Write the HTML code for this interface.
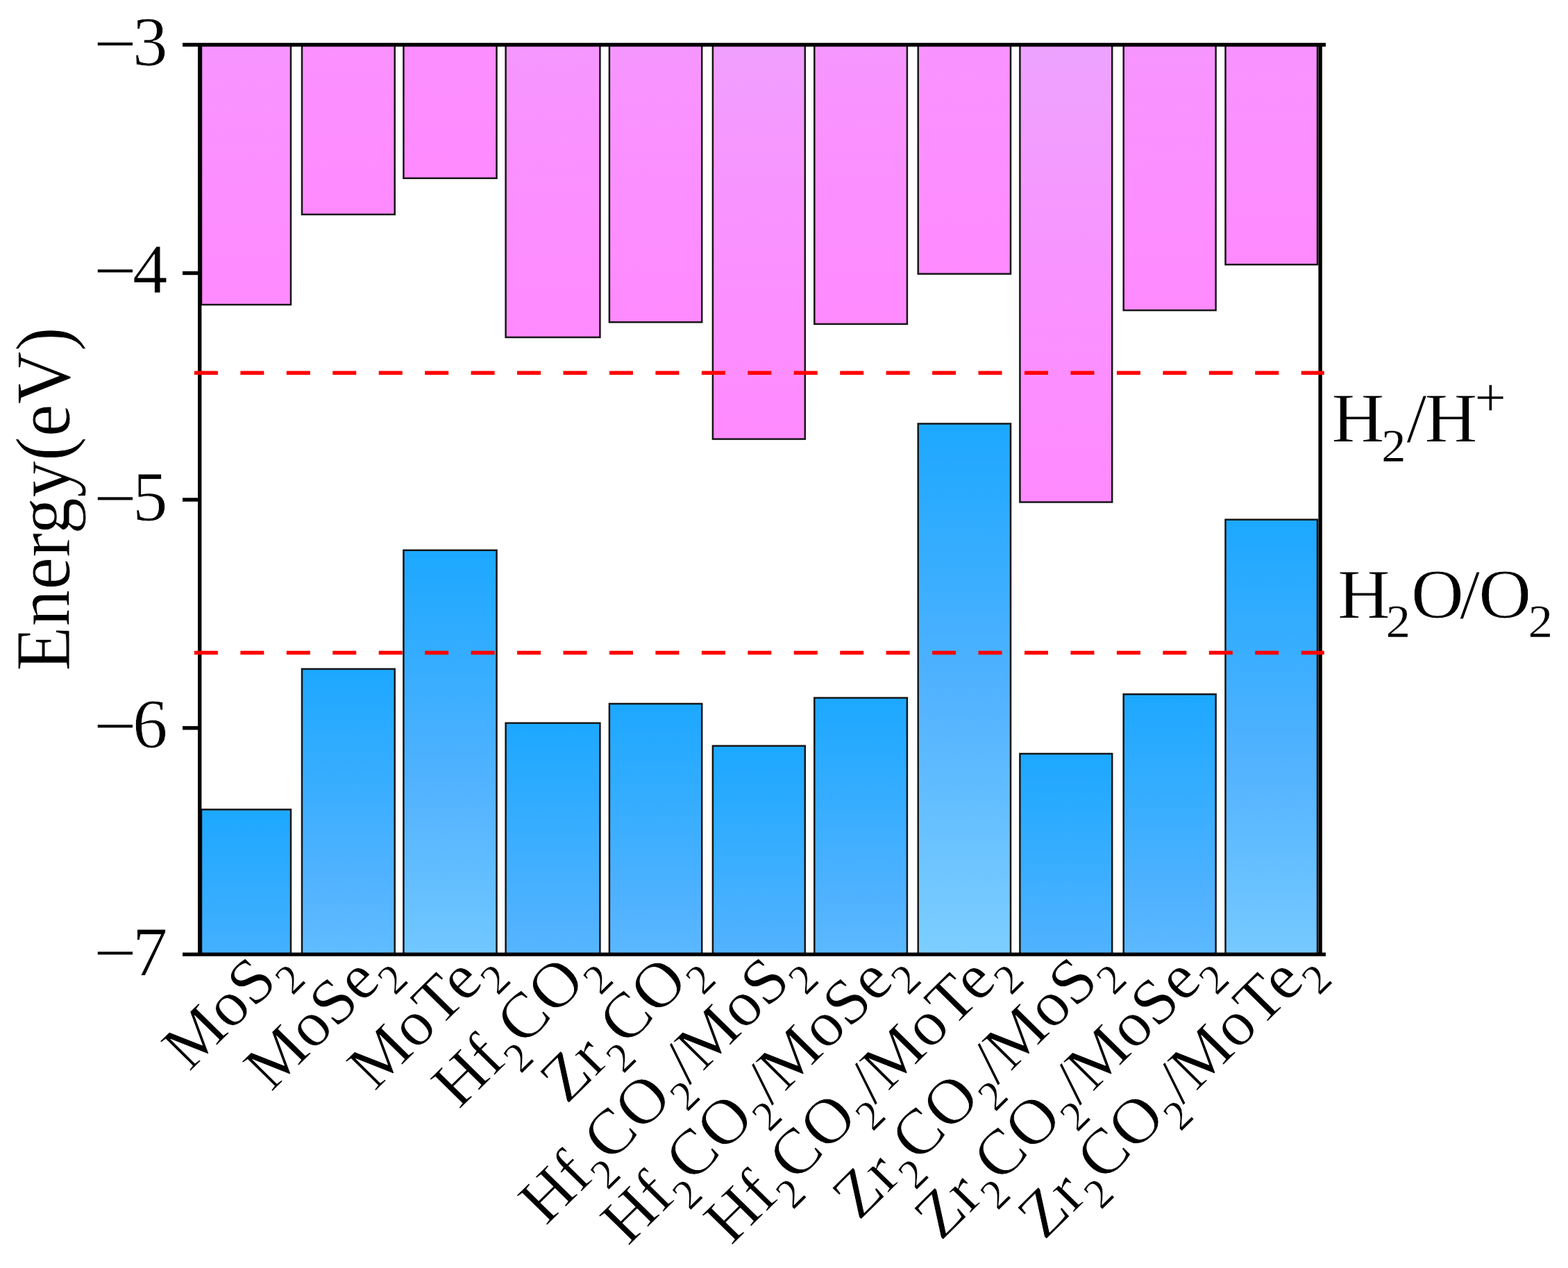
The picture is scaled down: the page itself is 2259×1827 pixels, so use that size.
<!DOCTYPE html>
<html lang="en">
<head>
<meta charset="utf-8">
<title>Band edge positions</title>
<style>
html,body{margin:0;padding:0;background:#fff;}
body{width:2259px;height:1827px;overflow:hidden;}
svg{display:block;filter:blur(0.70px);}
text{font-family:"Liberation Serif","Times New Roman",serif;fill:#000;stroke:#fff;stroke-width:0.80px;stroke-linejoin:round;}
tspan.s{stroke-width:0.30px;}
</style>
</head>
<body>
<svg width="2259" height="1827" viewBox="0 0 2259 1827" role="img" aria-label="Band edge positions relative to water redox potentials">
<rect x="0" y="0" width="2259" height="1827" fill="#ffffff"/>
<defs>
<linearGradient id="p0" gradientUnits="userSpaceOnUse" x1="0" y1="64.5" x2="0" y2="439.0"><stop offset="0.000" stop-color="rgb(247,149,255)"/><stop offset="0.119" stop-color="rgb(249,147,255)"/><stop offset="1.000" stop-color="rgb(255,138,255)"/></linearGradient>
<linearGradient id="b0" gradientUnits="userSpaceOnUse" x1="0" y1="1166.4" x2="0" y2="1375.1"><stop offset="0.000" stop-color="rgb(28,168,255)"/><stop offset="1.000" stop-color="rgb(68,176,255)"/></linearGradient>
<linearGradient id="p1" gradientUnits="userSpaceOnUse" x1="0" y1="64.5" x2="0" y2="309.0"><stop offset="0.000" stop-color="rgb(251,145,255)"/><stop offset="1.000" stop-color="rgb(255,138,255)"/></linearGradient>
<linearGradient id="b1" gradientUnits="userSpaceOnUse" x1="0" y1="963.9" x2="0" y2="1375.1"><stop offset="0.000" stop-color="rgb(28,168,255)"/><stop offset="0.737" stop-color="rgb(81,178,255)"/><stop offset="1.000" stop-color="rgb(96,188,255)"/></linearGradient>
<linearGradient id="p2" gradientUnits="userSpaceOnUse" x1="0" y1="64.5" x2="0" y2="256.8"><stop offset="0.000" stop-color="rgb(252,143,255)"/><stop offset="1.000" stop-color="rgb(255,138,255)"/></linearGradient>
<linearGradient id="b2" gradientUnits="userSpaceOnUse" x1="0" y1="792.8" x2="0" y2="1375.1"><stop offset="0.000" stop-color="rgb(28,168,255)"/><stop offset="0.571" stop-color="rgb(81,178,255)"/><stop offset="1.000" stop-color="rgb(113,199,255)"/></linearGradient>
<linearGradient id="p3" gradientUnits="userSpaceOnUse" x1="0" y1="64.5" x2="0" y2="486.0"><stop offset="0.000" stop-color="rgb(246,151,255)"/><stop offset="0.217" stop-color="rgb(249,147,255)"/><stop offset="1.000" stop-color="rgb(255,138,255)"/></linearGradient>
<linearGradient id="b3" gradientUnits="userSpaceOnUse" x1="0" y1="1041.8" x2="0" y2="1375.1"><stop offset="0.000" stop-color="rgb(28,168,255)"/><stop offset="0.878" stop-color="rgb(81,178,255)"/><stop offset="1.000" stop-color="rgb(87,182,255)"/></linearGradient>
<linearGradient id="p4" gradientUnits="userSpaceOnUse" x1="0" y1="64.5" x2="0" y2="464.2"><stop offset="0.000" stop-color="rgb(246,150,255)"/><stop offset="0.174" stop-color="rgb(249,147,255)"/><stop offset="1.000" stop-color="rgb(255,138,255)"/></linearGradient>
<linearGradient id="b4" gradientUnits="userSpaceOnUse" x1="0" y1="1014.0" x2="0" y2="1375.1"><stop offset="0.000" stop-color="rgb(28,168,255)"/><stop offset="0.820" stop-color="rgb(81,178,255)"/><stop offset="1.000" stop-color="rgb(90,184,255)"/></linearGradient>
<linearGradient id="p5" gradientUnits="userSpaceOnUse" x1="0" y1="64.5" x2="0" y2="632.6"><stop offset="0.000" stop-color="rgb(240,159,255)"/><stop offset="0.419" stop-color="rgb(249,147,255)"/><stop offset="1.000" stop-color="rgb(255,138,255)"/></linearGradient>
<linearGradient id="b5" gradientUnits="userSpaceOnUse" x1="0" y1="1074.7" x2="0" y2="1375.1"><stop offset="0.000" stop-color="rgb(28,168,255)"/><stop offset="0.960" stop-color="rgb(81,178,255)"/><stop offset="1.000" stop-color="rgb(83,179,255)"/></linearGradient>
<linearGradient id="p6" gradientUnits="userSpaceOnUse" x1="0" y1="64.5" x2="0" y2="466.9"><stop offset="0.000" stop-color="rgb(246,151,255)"/><stop offset="0.180" stop-color="rgb(249,147,255)"/><stop offset="1.000" stop-color="rgb(255,138,255)"/></linearGradient>
<linearGradient id="b6" gradientUnits="userSpaceOnUse" x1="0" y1="1005.5" x2="0" y2="1375.1"><stop offset="0.000" stop-color="rgb(28,168,255)"/><stop offset="0.804" stop-color="rgb(81,178,255)"/><stop offset="1.000" stop-color="rgb(91,185,255)"/></linearGradient>
<linearGradient id="p7" gradientUnits="userSpaceOnUse" x1="0" y1="64.5" x2="0" y2="394.6"><stop offset="0.000" stop-color="rgb(249,147,255)"/><stop offset="1.000" stop-color="rgb(255,138,255)"/></linearGradient>
<linearGradient id="b7" gradientUnits="userSpaceOnUse" x1="0" y1="610.5" x2="0" y2="1375.1"><stop offset="0.000" stop-color="rgb(28,168,255)"/><stop offset="0.501" stop-color="rgb(81,178,255)"/><stop offset="1.000" stop-color="rgb(124,206,255)"/></linearGradient>
<linearGradient id="p8" gradientUnits="userSpaceOnUse" x1="0" y1="64.5" x2="0" y2="723.5"><stop offset="0.000" stop-color="rgb(237,163,255)"/><stop offset="0.499" stop-color="rgb(249,147,255)"/><stop offset="1.000" stop-color="rgb(255,138,255)"/></linearGradient>
<linearGradient id="b8" gradientUnits="userSpaceOnUse" x1="0" y1="1086.0" x2="0" y2="1375.1"><stop offset="0.000" stop-color="rgb(28,168,255)"/><stop offset="1.000" stop-color="rgb(81,178,255)"/></linearGradient>
<linearGradient id="p9" gradientUnits="userSpaceOnUse" x1="0" y1="64.5" x2="0" y2="447.1"><stop offset="0.000" stop-color="rgb(247,150,255)"/><stop offset="0.137" stop-color="rgb(249,147,255)"/><stop offset="1.000" stop-color="rgb(255,138,255)"/></linearGradient>
<linearGradient id="b9" gradientUnits="userSpaceOnUse" x1="0" y1="1000.3" x2="0" y2="1375.1"><stop offset="0.000" stop-color="rgb(28,168,255)"/><stop offset="0.795" stop-color="rgb(81,178,255)"/><stop offset="1.000" stop-color="rgb(92,185,255)"/></linearGradient>
<linearGradient id="p10" gradientUnits="userSpaceOnUse" x1="0" y1="64.5" x2="0" y2="381.2"><stop offset="0.000" stop-color="rgb(249,147,255)"/><stop offset="1.000" stop-color="rgb(255,138,255)"/></linearGradient>
<linearGradient id="b10" gradientUnits="userSpaceOnUse" x1="0" y1="748.7" x2="0" y2="1375.1"><stop offset="0.000" stop-color="rgb(28,168,255)"/><stop offset="0.546" stop-color="rgb(81,178,255)"/><stop offset="1.000" stop-color="rgb(117,201,255)"/></linearGradient>
</defs>
<g font-size="101.0" text-anchor="end">
<text transform="translate(241.4 95.3) scale(1.000 1)"><tspan textLength="62.1" lengthAdjust="spacingAndGlyphs" dy="1.8">−</tspan><tspan dx="-6.0" dy="-1.8">3</tspan></text>
<text transform="translate(241.4 421.7) scale(1.000 1)"><tspan textLength="62.1" lengthAdjust="spacingAndGlyphs" dy="1.8">−</tspan><tspan dx="-6.0" dy="-1.8">4</tspan></text>
<text transform="translate(241.4 750.0) scale(1.000 1)"><tspan textLength="62.1" lengthAdjust="spacingAndGlyphs" dy="1.8">−</tspan><tspan dx="-6.0" dy="-1.8">5</tspan></text>
<text transform="translate(241.4 1077.7) scale(1.000 1)"><tspan textLength="62.1" lengthAdjust="spacingAndGlyphs" dy="1.8">−</tspan><tspan dx="-6.0" dy="-1.8">6</tspan></text>
<text transform="translate(241.4 1405.5) scale(1.000 1)"><tspan textLength="62.1" lengthAdjust="spacingAndGlyphs" dy="1.8">−</tspan><tspan dx="-6.0" dy="-1.8">7</tspan></text>
</g>
<text font-size="105.5" text-anchor="middle" transform="translate(100.2 719.0) scale(1.070 1) rotate(-90)">Energy(eV)</text>
<text font-size="102.0" transform="translate(1918.5 637.0) scale(1.030 1)">H<tspan class="s" font-size="68.3" dx="-4.1" dy="27.5">2</tspan><tspan dx="0.9" dy="-27.5">/</tspan><tspan dx="-2.9">H</tspan><tspan class="s" font-size="77.5" dx="-3.5" dy="-38.5">+</tspan></text>
<text font-size="102.0" transform="translate(1927.0 890.5) scale(1.030 1)">H<tspan class="s" font-size="68.3" dx="-6.0" dy="27.5">2</tspan><tspan dx="1.2" dy="-27.5">O</tspan><tspan dx="-5.7">/</tspan><tspan dx="-2.1">O</tspan><tspan class="s" font-size="68.3" dx="-4.1" dy="27.5">2</tspan></text>
<g font-size="93.2" text-anchor="end">
<text transform="translate(424.4 1395.9) scale(1.017 1) rotate(-45.0)">MoS<tspan class="s" font-size="60.1" dy="25.6">2</tspan></text>
<text transform="translate(572.3 1395.9) scale(1.017 1) rotate(-45.0)">MoSe<tspan class="s" font-size="60.1" dy="25.6">2</tspan></text>
<text transform="translate(720.2 1395.9) scale(1.017 1) rotate(-45.0)">MoTe<tspan class="s" font-size="60.1" dy="25.6">2</tspan></text>
<text transform="translate(868.1 1395.9) scale(1.017 1) rotate(-45.0)">Hf<tspan class="s" font-size="60.1" dy="25.6">2</tspan><tspan dy="-25.6">CO</tspan><tspan class="s" font-size="60.1" dy="25.6">2</tspan></text>
<text transform="translate(1016.0 1395.9) scale(1.017 1) rotate(-45.0)">Zr<tspan class="s" font-size="60.1" dy="25.6">2</tspan><tspan dy="-25.6">CO</tspan><tspan class="s" font-size="60.1" dy="25.6">2</tspan></text>
<text transform="translate(1163.9 1395.9) scale(1.017 1) rotate(-45.0)">Hf<tspan class="s" font-size="60.1" dy="25.6">2</tspan><tspan dy="-25.6">CO</tspan><tspan class="s" font-size="60.1" dy="25.6">2</tspan><tspan dy="-25.6">/MoS</tspan><tspan class="s" font-size="60.1" dy="25.6">2</tspan></text>
<text transform="translate(1311.8 1395.9) scale(1.017 1) rotate(-45.0)">Hf<tspan class="s" font-size="60.1" dy="25.6">2</tspan><tspan dy="-25.6">CO</tspan><tspan class="s" font-size="60.1" dy="25.6">2</tspan><tspan dy="-25.6">/MoSe</tspan><tspan class="s" font-size="60.1" dy="25.6">2</tspan></text>
<text transform="translate(1459.7 1395.9) scale(1.017 1) rotate(-45.0)">Hf<tspan class="s" font-size="60.1" dy="25.6">2</tspan><tspan dy="-25.6">CO</tspan><tspan class="s" font-size="60.1" dy="25.6">2</tspan><tspan dy="-25.6">/MoTe</tspan><tspan class="s" font-size="60.1" dy="25.6">2</tspan></text>
<text transform="translate(1607.6 1395.9) scale(1.017 1) rotate(-45.0)">Zr<tspan class="s" font-size="60.1" dy="25.6">2</tspan><tspan dy="-25.6">CO</tspan><tspan class="s" font-size="60.1" dy="25.6">2</tspan><tspan dy="-25.6">/MoS</tspan><tspan class="s" font-size="60.1" dy="25.6">2</tspan></text>
<text transform="translate(1755.5 1395.9) scale(1.017 1) rotate(-45.0)">Zr<tspan class="s" font-size="60.1" dy="25.6">2</tspan><tspan dy="-25.6">CO</tspan><tspan class="s" font-size="60.1" dy="25.6">2</tspan><tspan dy="-25.6">/MoSe</tspan><tspan class="s" font-size="60.1" dy="25.6">2</tspan></text>
<text transform="translate(1903.4 1395.9) scale(1.017 1) rotate(-45.0)">Zr<tspan class="s" font-size="60.1" dy="25.6">2</tspan><tspan dy="-25.6">CO</tspan><tspan class="s" font-size="60.1" dy="25.6">2</tspan><tspan dy="-25.6">/MoTe</tspan><tspan class="s" font-size="60.1" dy="25.6">2</tspan></text>
</g>
<g stroke="#151515" stroke-width="2.5" stroke-linejoin="miter">
<rect x="290.0" y="64.5" width="129.0" height="374.5" fill="url(#p0)"/>
<rect x="290.0" y="1166.4" width="129.0" height="208.7" fill="url(#b0)"/>
<rect x="435.0" y="64.5" width="133.7" height="244.5" fill="url(#p1)"/>
<rect x="435.0" y="963.9" width="133.7" height="411.2" fill="url(#b1)"/>
<rect x="581.4" y="64.5" width="134.1" height="192.3" fill="url(#p2)"/>
<rect x="581.4" y="792.8" width="134.1" height="582.3" fill="url(#b2)"/>
<rect x="728.6" y="64.5" width="135.8" height="421.5" fill="url(#p3)"/>
<rect x="728.6" y="1041.8" width="135.8" height="333.3" fill="url(#b3)"/>
<rect x="877.9" y="64.5" width="133.3" height="399.7" fill="url(#p4)"/>
<rect x="877.9" y="1014.0" width="133.3" height="361.1" fill="url(#b4)"/>
<rect x="1026.9" y="64.5" width="132.9" height="568.1" fill="url(#p5)"/>
<rect x="1026.9" y="1074.7" width="132.9" height="300.4" fill="url(#b5)"/>
<rect x="1173.3" y="64.5" width="133.6" height="402.4" fill="url(#p6)"/>
<rect x="1173.3" y="1005.5" width="133.6" height="369.6" fill="url(#b6)"/>
<rect x="1322.7" y="64.5" width="133.3" height="330.1" fill="url(#p7)"/>
<rect x="1322.7" y="610.5" width="133.3" height="764.6" fill="url(#b7)"/>
<rect x="1469.4" y="64.5" width="132.8" height="659.0" fill="url(#p8)"/>
<rect x="1469.4" y="1086.0" width="132.8" height="289.1" fill="url(#b8)"/>
<rect x="1618.7" y="64.5" width="132.9" height="382.6" fill="url(#p9)"/>
<rect x="1618.7" y="1000.3" width="132.9" height="374.8" fill="url(#b9)"/>
<rect x="1765.5" y="64.5" width="132.5" height="316.7" fill="url(#p10)"/>
<rect x="1765.5" y="748.7" width="132.5" height="626.4" fill="url(#b10)"/>
</g>
<g stroke="#000" stroke-width="5.4" fill="none">
<line x1="263.0" y1="64.5" x2="1910.0" y2="64.5"/>
<line x1="263.0" y1="1375.1" x2="1910.0" y2="1375.1"/>
<line x1="287.7" y1="64.5" x2="287.7" y2="1375.1"/>
<line x1="1902.1" y1="64.5" x2="1902.1" y2="1375.1"/>
<line x1="263.0" y1="393.5" x2="287.7" y2="393.5"/>
<line x1="263.0" y1="720.0" x2="287.7" y2="720.0"/>
<line x1="263.0" y1="1048.9" x2="287.7" y2="1048.9"/>
</g>
<line x1="279.9" y1="537.3" x2="1907.7" y2="537.3" stroke="#ff0000" stroke-width="5.5" stroke-dasharray="34 32.45"/>
<line x1="279.9" y1="940.6" x2="1907.7" y2="940.6" stroke="#ff0000" stroke-width="5.5" stroke-dasharray="34 32.45"/>
</svg>
</body>
</html>
